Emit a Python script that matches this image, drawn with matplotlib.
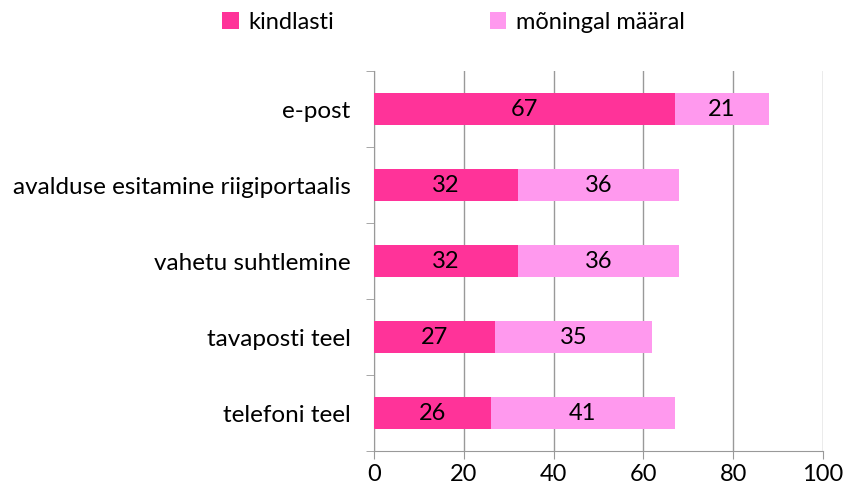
import matplotlib.pyplot as plt
import numpy as np
from matplotlib import rcParams
rcParams['font.family'] = ['Lato', 'DejaVu Sans']

categories = ['e-post', 'avalduse esitamine riigiportaalis', 'vahetu suhtlemine',
              'tavaposti teel', 'telefoni teel']
kindlasti = [67, 32, 32, 27, 26]
moningal = [21, 36, 36, 35, 41]
xticks = [0, 20, 40, 60, 80, 100]

c1 = '#FF3399'
c2 = '#FF99EE'
gc = '#999999'

fig = plt.figure(figsize=(8.43, 4.94), dpi=100)
ax = fig.add_axes([374/843, 1-451/494, 449/843, 380/494])

y = np.arange(len(categories))[::-1]
b1 = ax.barh(y, kindlasti, height=0.42, color=c1, label='kindlasti', zorder=3)
b2 = ax.barh(y, moningal, left=kindlasti, height=0.42, color=c2, label='mõningal määral', zorder=3)

for yy, a, b in zip(y, kindlasti, moningal):
    ax.text(a/2, yy, str(a), ha='center', va='center', fontsize=17, zorder=4)
    ax.text(a + b/2, yy, str(b), ha='center', va='center', fontsize=17, zorder=4)

ax.set_xlim(0, 100)
ax.set_ylim(-0.5, len(categories)-0.5)
ax.set_xticks(xticks)
ax.set_xticklabels([str(t) for t in xticks], fontsize=17)
ax.set_yticks(y)
ax.set_yticklabels(categories, fontsize=17.5)
ax.set_yticks(np.arange(len(categories)+1) - 0.5, minor=True)
ax.tick_params(axis='y', which='major', length=0, pad=17)
ax.tick_params(axis='y', which='minor', length=6, color=gc, direction='out')
ax.tick_params(axis='x', length=6, color=gc, direction='out', pad=3)
ax.grid(axis='x', color=gc, linewidth=1, zorder=0)
for s in ['top', 'right']:
    ax.spines[s].set_visible(False)
ax.spines['left'].set_color(gc)
ax.spines['bottom'].set_color(gc)

fig.legend(handles=[b1, b2], loc='center', bbox_to_anchor=(0.538, 0.955), ncol=2,
           frameon=False, fontsize=17, handlelength=0.7, handleheight=0.7,
           columnspacing=6.6, handletextpad=0.4)

plt.savefig('out.png', dpi=100)
